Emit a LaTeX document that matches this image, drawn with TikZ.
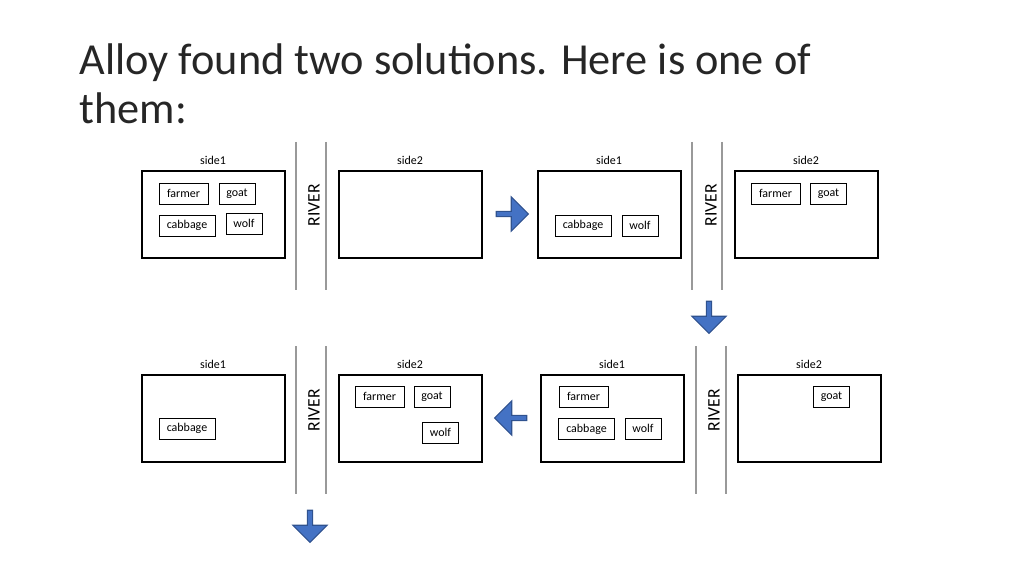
\documentclass[tikz,border=0pt]{standalone}
\usepackage{fontspec}
\setmainfont{Carlito}
\usetikzlibrary{positioning}
\usetikzlibrary{shapes.arrows}
\definecolor{arrowBlue}{RGB}{68,114,196}
\definecolor{arrowEdge}{RGB}{47,82,143}
\tikzset{
  sideBox/.style={draw, line width=0.35pt, minimum width=1.43cm, minimum height=0.87cm, inner sep=0pt},
  itemBox/.style={draw, line width=0.25pt, font=\fontsize{3.4}{4}\selectfont, minimum height=0.21cm, inner sep=1pt, minimum width=0.36cm},
  sideLabel/.style={font=\fontsize{3.4}{4}\selectfont},
  riverLabel/.style={font=\fontsize{5}{6}\selectfont, rotate=90},
  riverLine/.style={draw=gray!80, line width=0.3pt},
  moveArrow/.style={single arrow, draw=arrowEdge, fill=arrowBlue, minimum height=0.32cm,
    minimum width=0.34cm, single arrow head extend=0.03cm, inner sep=0pt, line width=0.3pt}
}
\begin{document}
\begin{tikzpicture}[x=0.01cm, y=-0.01cm]
  \useasboundingbox (0,0) rectangle (1024,576);
  \node[anchor=base west, align=left, inner sep=0pt, text=black!85, font=\fontsize{12.6}{14.2}\selectfont] (title) at (79,124)
    {Alloy found two solutions. Here is one of\\them:};

  % first state
  \node[sideBox] (s1a) at (213.5,214.5) {};
  \node[sideLabel] (l1a) at (213,160) {side1};
  \node[sideBox] (s2a) at (410.5,214.5) {};
  \node[sideLabel] (l2a) at (410,160) {side2};
  \coordinate (r1a) at (296,142); \coordinate (r1b) at (296,290);
  \coordinate (r2a) at (326,142); \coordinate (r2b) at (326,290);
  \draw[riverLine] (r1a) -- (r1b) (r2a) -- (r2b);
  \node[riverLabel] (rva) at (314,205) {RIVER};
  \node[itemBox, minimum width=0.49cm] (fa) at (183.5,193.5) {farmer};
  \node[itemBox] (ga) at (237,193.5) {goat};
  \node[itemBox, minimum width=0.56cm] (ca) at (187,225.5) {cabbage};
  \node[itemBox] (wa) at (244,223.5) {wolf};

  \node[moveArrow] (m1) at (511,214) {};

  % second state
  \node[sideBox] (s1b) at (609.5,214.5) {};
  \node[sideLabel] (l1b) at (609,160) {side1};
  \node[sideBox] (s2b) at (806.5,214.5) {};
  \node[sideLabel] (l2b) at (806,160) {side2};
  \coordinate (r3a) at (692,142); \coordinate (r3b) at (692,290);
  \coordinate (r4a) at (722,142); \coordinate (r4b) at (722,290);
  \draw[riverLine] (r3a) -- (r3b) (r4a) -- (r4b);
  \node[riverLabel] (rvb) at (711,205) {RIVER};
  \node[itemBox, minimum width=0.56cm] (cb) at (583,225.5) {cabbage};
  \node[itemBox] (wb) at (640,225.5) {wolf};
  \node[itemBox, minimum width=0.49cm] (fb) at (775.5,193.5) {farmer};
  \node[itemBox] (gb) at (828.5,193.5) {goat};

  \node[moveArrow, rotate=-90] (m2) at (709,316) {};

  % third state
  \node[sideBox] (s1c) at (612.5,418.5) {};
  \node[sideLabel] (l1c) at (612,364) {side1};
  \node[sideBox] (s2c) at (809.5,418.5) {};
  \node[sideLabel] (l2c) at (809,364) {side2};
  \coordinate (r5a) at (696,346); \coordinate (r5b) at (696,494);
  \coordinate (r6a) at (726,346); \coordinate (r6b) at (726,494);
  \draw[riverLine] (r5a) -- (r5b) (r6a) -- (r6b);
  \node[riverLabel] (rvc) at (714,410) {RIVER};
  \node[itemBox, minimum width=0.49cm] (fc) at (583.5,396.5) {farmer};
  \node[itemBox, minimum width=0.56cm] (cc) at (586.5,429) {cabbage};
  \node[itemBox] (wc) at (643,428.5) {wolf};
  \node[itemBox] (gc) at (831.5,396.5) {goat};

  \node[moveArrow, rotate=180] (m3) at (512,418) {};

  % fourth state
  \node[sideBox] (s1d) at (213.5,418.5) {};
  \node[sideLabel] (l1d) at (213,364) {side1};
  \node[sideBox] (s2d) at (410.5,418.5) {};
  \node[sideLabel] (l2d) at (410,364) {side2};
  \coordinate (r7a) at (296,346); \coordinate (r7b) at (296,494);
  \coordinate (r8a) at (326,346); \coordinate (r8b) at (326,494);
  \draw[riverLine] (r7a) -- (r7b) (r8a) -- (r8b);
  \node[riverLabel] (rvd) at (314,410) {RIVER};
  \node[itemBox, minimum width=0.56cm] (cd) at (187,428.5) {cabbage};
  \node[itemBox, minimum width=0.49cm] (fd) at (379.5,396.5) {farmer};
  \node[itemBox] (gd) at (432,396.5) {goat};
  \node[itemBox] (wd) at (440.5,432.5) {wolf};

  \node[moveArrow, rotate=-90] (m4) at (310,525) {};
\end{tikzpicture}
\end{document}
